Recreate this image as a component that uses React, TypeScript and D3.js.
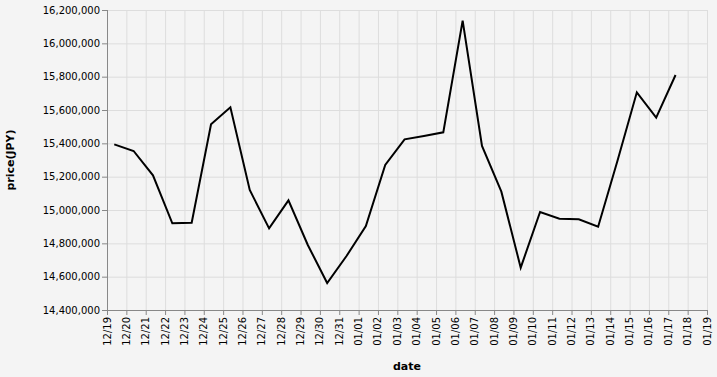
import React from "react";
import * as d3 from "d3";

const dates = [
  "2017-12-19T09:00Z", "2017-12-20T09:00Z", "2017-12-21T09:00Z", "2017-12-22T09:00Z",
  "2017-12-23T09:00Z", "2017-12-24T09:00Z", "2017-12-25T09:00Z", "2017-12-26T09:00Z",
  "2017-12-27T09:00Z", "2017-12-28T09:00Z", "2017-12-29T09:00Z", "2017-12-30T09:00Z",
  "2017-12-31T09:00Z", "2018-01-01T09:00Z", "2018-01-02T09:00Z", "2018-01-03T09:00Z",
  "2018-01-04T09:00Z", "2018-01-05T09:00Z", "2018-01-06T09:00Z", "2018-01-07T09:00Z",
  "2018-01-08T09:00Z", "2018-01-09T09:00Z", "2018-01-10T09:00Z", "2018-01-11T09:00Z",
  "2018-01-12T09:00Z", "2018-01-13T09:00Z", "2018-01-14T09:00Z", "2018-01-15T09:00Z",
  "2018-01-16T09:00Z", "2018-01-17T09:00Z",
];
const prices = [
  15394000, 15354000, 15208000, 14920000, 14924000, 15514000, 15616000, 15120000,
  14890000, 15058000, 14790000, 14562000, 14724000, 14904000, 15270000, 15424000,
  15444000, 15466000, 16136000, 15384000, 15110000, 14654000, 14988000, 14948000,
  14944000, 14900000, 15295000, 15706000, 15554000, 15810000,
];
const yTicks = [14400000, 14600000, 14800000, 15000000, 15200000, 15400000, 15600000, 15800000, 16000000, 16200000];
const xDomain = ["2017-12-19T00:00Z", "2018-01-19T00:00Z"];

const W = 717;
const H = 377;
const left = 107;
const right = 707;
const top = 10;
const bottom = 310;
const FONT = "DejaVu Sans, sans-serif";

export default function App() {
  const x = d3.scaleUtc().domain(xDomain.map((d) => new Date(d))).range([left, right]);
  const y = d3.scaleLinear().domain([14400000, 16200000]).range([bottom, top]);
  const xTicks = x.ticks(d3.utcDay.every(1));
  const fmtX = d3.utcFormat("%m/%d");
  const fmtY = d3.format(",");
  const data = dates.map((d, i) => ({ t: new Date(d), v: prices[i] }));
  const line = d3
    .line<{ t: Date; v: number }>()
    .x((d) => x(d.t))
    .y((d) => y(d.v));

  return (
    <svg
      width={W}
      height={H}
      style={{ position: "absolute", left: 0, top: 0, fontFamily: FONT }}
    >
      <rect x={0} y={0} width={W} height={H} fill="#f4f4f4" />
      {xTicks.map((t, i) => (
        <line key={"gx" + i} x1={x(t) + 0.5} x2={x(t) + 0.5} y1={top} y2={bottom} stroke="#ddd" />
      ))}
      {yTicks.map((v, i) => (
        <line key={"gy" + i} x1={left} x2={right} y1={y(v) + 0.5} y2={y(v) + 0.5} stroke="#ddd" />
      ))}
      <path d={line(data) || ""} fill="none" stroke="#000" strokeWidth={2} />
      {/* y axis */}
      <line x1={left + 0.5} x2={left + 0.5} y1={top} y2={bottom} stroke="#888" />
      {yTicks.map((v, i) => (
        <g key={"yt" + i}>
          <line x1={left - 5} x2={left} y1={y(v) + 0.5} y2={y(v) + 0.5} stroke="#888" />
          <text x={left - 7} y={y(v) + 3.5} fontSize={10} textAnchor="end" fill="#000">
            {fmtY(v)}
          </text>
        </g>
      ))}
      {/* x axis */}
      <line x1={left} x2={right + 1} y1={bottom + 0.5} y2={bottom + 0.5} stroke="#888" />
      {xTicks.map((t, i) => (
        <g key={"xt" + i}>
          <line x1={x(t) + 0.5} x2={x(t) + 0.5} y1={bottom} y2={bottom + 5} stroke="#888" />
          <text
            transform={`translate(${x(t) + 3.5},${bottom + 7}) rotate(-90)`}
            fontSize={10}
            textAnchor="end"
            fill="#000"
          >
            {fmtX(t)}
          </text>
        </g>
      ))}
      <text x={(left + right) / 2} y={370} fontSize={11} fontWeight="bold" textAnchor="middle" fill="#000">
        date
      </text>
      <text
        transform={`translate(14,${(top + bottom) / 2}) rotate(-90)`}
        fontSize={11}
        fontWeight="bold"
        textAnchor="middle"
        fill="#000"
      >
        price(JPY)
      </text>
    </svg>
  );
}
